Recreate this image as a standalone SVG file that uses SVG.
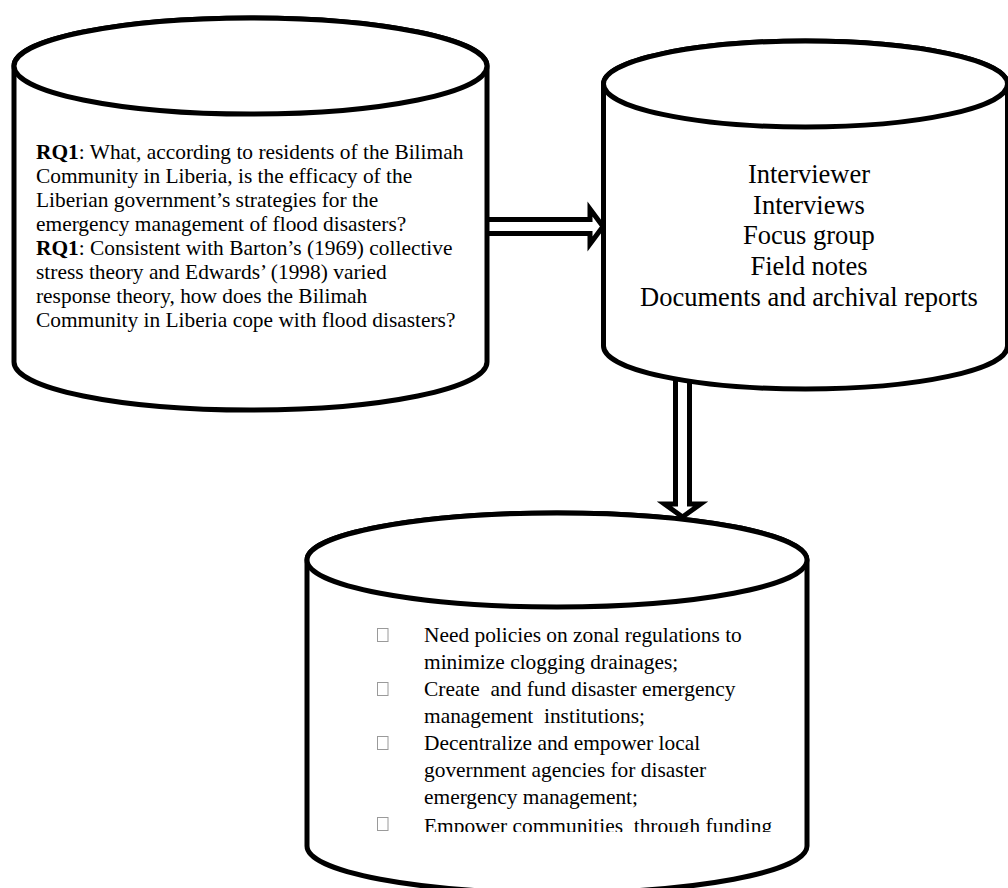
<svg xmlns="http://www.w3.org/2000/svg" width="1008" height="888" viewBox="0 0 1008 888">
<defs>
<style>
.cyl{fill:#fff;stroke:#000;stroke-width:5;}
.arr{fill:#fff;stroke:#000;stroke-width:5;stroke-linejoin:miter;}
.t{font-family:"Liberation Serif","Times New Roman",serif;fill:#000;white-space:pre;}
.lt{font-size:21.4px;}
.rt{font-size:26.5px;text-anchor:middle;}
.bul{fill:none;stroke:#9a9a9a;stroke-width:1;}
</style>
<clipPath id="clipB"><rect x="300" y="600" width="520" height="232"/></clipPath>
</defs>
<rect width="1008" height="888" fill="#fff"/>
<g id="connectors">
<polygon class="arr" points="470,219.5 590,219.5 590,209 603,226.5 590,244 590,233.5 470,233.5"/>
<polygon class="arr" points="675.5,350 675.5,504 664.5,504 682.5,517 700.5,504 689.5,504 689.5,350"/>
</g>
<g id="node-rq">
<path class="cyl" d="M14,66 L14,362 A236.5,48 0 0 0 487,362 L487,66 A236.5,48 0 0 0 14,66 Z"/>
<ellipse class="cyl" cx="250.5" cy="66" rx="236.5" ry="48"/>
<text class="t lt" x="36" y="159"><tspan font-weight="bold">RQ1</tspan>: What, according to residents of the Bilimah</text>
<text class="t lt" x="36" y="183">Community in Liberia, is the efficacy of the</text>
<text class="t lt" x="36" y="207">Liberian government’s strategies for the</text>
<text class="t lt" x="36" y="231">emergency management of flood disasters?</text>
<text class="t lt" x="36" y="255"><tspan font-weight="bold">RQ1</tspan>: Consistent with Barton’s (1969) collective</text>
<text class="t lt" x="36" y="279">stress theory and Edwards’ (1998) varied</text>
<text class="t lt" x="36" y="303">response theory, how does the Bilimah</text>
<text class="t lt" x="36" y="327">Community in Liberia cope with flood disasters?</text>
</g>
<g id="node-data">
<path class="cyl" d="M603.5,84 L603.5,346 A202,43 0 0 0 1007.5,346 L1007.5,84 A202,43 0 0 0 603.5,84 Z"/>
<ellipse class="cyl" cx="805.5" cy="84" rx="202" ry="43"/>
<text class="t rt" x="809" y="183">Interviewer</text>
<text class="t rt" x="809" y="213.5">Interviews</text>
<text class="t rt" x="809" y="244">Focus group</text>
<text class="t rt" x="809" y="275">Field notes</text>
<text class="t rt" x="809" y="306">Documents and archival reports</text>
</g>
<g id="node-findings">
<path class="cyl" d="M307,560 L307,846 A250,47 0 0 0 807,846 L807,560 A250,47 0 0 0 307,560 Z"/>
<ellipse class="cyl" cx="557" cy="560" rx="250" ry="47"/>
<g clip-path="url(#clipB)">
<rect class="bul" x="377.5" y="628.5" width="10.5" height="13"/>
<rect class="bul" x="377.5" y="682.5" width="10.5" height="13"/>
<rect class="bul" x="377.5" y="736.5" width="10.5" height="13"/>
<rect class="bul" x="377.5" y="817.5" width="10.5" height="13"/>
<text class="t lt" x="424" y="642">Need policies on zonal regulations to</text>
<text class="t lt" x="424" y="669">minimize clogging drainages;</text>
<text class="t lt" x="424" y="696">Create  and fund disaster emergency</text>
<text class="t lt" x="424" y="723">management  institutions;</text>
<text class="t lt" x="424" y="750">Decentralize and empower local</text>
<text class="t lt" x="424" y="777">government agencies for disaster</text>
<text class="t lt" x="424" y="804">emergency management;</text>
<text class="t lt" x="424" y="833">Empower communities  through funding</text>
</g>
</g>
</svg>
